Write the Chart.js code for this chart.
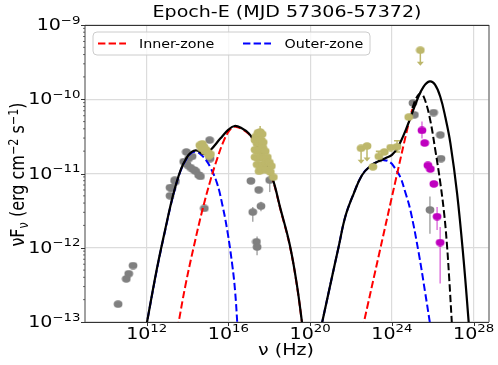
<!DOCTYPE html>
<html>
<head>
<meta charset="utf-8">
<script src="https://cdn.jsdelivr.net/npm/chart.js@4.4.1/dist/chart.umd.min.js"></script>
<style>
  html, body { margin: 0; padding: 0; background: #fff; }
  #wrap { width: 498px; height: 365px; }
</style>
</head>
<body>
<div id="wrap"><canvas id="sed"></canvas></div>
<script>
// SED for Epoch-E. Every number is log10: nu in Hz, nuFnu in erg cm^-2 s^-1

const xTicks = [12, 16, 20, 24, 28];
const yTicks = [-13, -12, -11, -10, -9];

// model: total, synchrotron hump
const totLoNu = [11.95, 12.5, 12.9, 13.3, 13.65, 13.95, 14.2, 14.45, 14.8, 15.1, 15.6, 16.0, 16.3, 16.65, 17.0, 17.25, 17.7, 18.15, 18.55, 19.0, 19.35, 19.62];
const totLoF = [-13.1, -12.28, -11.76, -11.28, -10.96, -10.79, -10.71, -10.69, -10.74, -10.69, -10.53, -10.41, -10.36, -10.39, -10.46, -10.56, -10.77, -11.06, -11.48, -11.96, -12.5, -13.05];
// model: total, high-energy hump
const totHiNu = [20.55, 21.07, 21.39, 21.72, 22.13, 22.54, 22.94, 23.3, 23.7, 24.0, 24.3, 24.74, 25.23, 25.55, 25.85, 26.1, 26.37, 26.62, 26.86, 27.19, 27.51, 27.77];
const totHiF = [-13.05, -12.39, -11.99, -11.58, -11.27, -11.02, -10.9, -10.84, -10.79, -10.75, -10.64, -10.37, -10.01, -9.83, -9.76, -9.8, -9.97, -10.25, -10.59, -11.27, -12.17, -13.05];
// inner zone
const redLoNu = [13.5, 13.9, 14.3, 14.7, 15.12, 15.45, 15.77, 16.05, 16.3, 16.65, 17.0, 17.25, 17.7, 18.15, 18.55, 19.0, 19.35, 19.62];
const redLoF = [-13.1, -12.5, -11.99, -11.52, -11.09, -10.8, -10.56, -10.42, -10.37, -10.4, -10.47, -10.57, -10.78, -11.07, -11.49, -11.97, -12.51, -13.05];
const redHiNu = [22.55, 23.4, 24.15, 24.82, 25.0];
const redHiF = [-13.1, -12.05, -11.13, -10.32, -10.13];
// outer zone
const blueLoNu = [11.95, 12.5, 12.9, 13.3, 13.65, 13.95, 14.2, 14.4, 14.63, 14.9, 15.12, 15.44, 15.7, 15.95, 16.2, 16.33, 16.44];
const blueLoF = [-13.1, -12.29, -11.77, -11.29, -10.97, -10.8, -10.72, -10.71, -10.74, -10.82, -10.92, -11.13, -11.42, -11.78, -12.26, -12.6, -13.05];
const blueHiNu = [20.55, 21.07, 21.39, 21.72, 22.13, 22.54, 22.94, 23.3, 23.6, 23.92, 24.15, 24.41, 24.65, 24.9, 25.31, 25.63, 25.88];
const blueHiF = [-13.05, -12.39, -11.99, -11.58, -11.27, -11.02, -10.9, -10.84, -10.82, -10.85, -10.93, -11.05, -11.25, -11.49, -12.07, -12.61, -13.05];
// inner zone, EC part (black dashed)
const ecNu = [25.0, 25.2, 25.42, 25.63, 25.88, 26.12, 26.37, 26.56, 26.69, 26.8, 26.94];
const ecF = [-10.12, -9.98, -9.92, -10.02, -10.29, -10.68, -11.13, -11.55, -11.95, -12.4, -13.05];

// archival data (grey)
const grayNu = [10.6, 11.0, 11.12, 11.33, 13.14, 13.14, 13.24, 13.37, 13.4, 13.81, 13.94, 13.97, 14.05, 14.14, 14.22, 14.3, 14.4, 14.54, 14.63, 14.82, 15.08, 15.1, 17.1, 17.19, 17.37, 17.4, 17.48, 17.59, 18.02, 25.03, 25.1, 25.86, 26.04, 26.37, 26.4];
const grayF = [-12.76, -12.42, -12.35, -12.24, -11.3, -11.19, -11.2, -11.09, -11.11, -10.84, -10.71, -10.88, -10.8, -10.92, -10.77, -10.95, -10.97, -11.02, -11.04, -11.47, -10.55, -10.8, -11.1, -11.52, -11.92, -11.99, -11.22, -11.44, -11.09, -10.05, -10.21, -11.49, -10.18, -10.48, -10.8];
const grayErrNu = [17.19, 17.4, 17.59, 18.02, 25.86];
const grayErrLo = [-11.65, -12.1, -11.51, -11.25, -11.81];
const grayErrHi = [-11.45, -11.85, -11.38, -11.02, -11.31];

// contemporaneous data (khaki)
const oliveNu = [14.6, 14.68, 14.72, 14.8, 14.85, 14.9, 15.0, 15.05, 15.12,
  17.35, 17.45, 17.55, 17.65, 17.3, 17.4, 17.5, 17.6, 17.7, 17.3, 17.42, 17.55, 17.68, 17.8, 17.3, 17.45, 17.6, 17.75, 17.9,
  17.4, 17.55, 17.7, 17.85, 18.0, 18.1, 17.5, 17.65, 17.85, 18.05, 18.2,
  23.07, 23.36, 23.63, 23.94, 24.25, 24.82];
const oliveF = [-10.62, -10.66, -10.6, -10.64, -10.7, -10.68, -10.72, -10.76, -10.74,
  -10.5, -10.45, -10.44, -10.47, -10.55, -10.6, -10.58, -10.55, -10.58, -10.68, -10.7, -10.68, -10.65, -10.7, -10.78, -10.8, -10.77, -10.8, -10.78,
  -10.88, -10.9, -10.88, -10.85, -10.85, -10.9, -10.97, -10.95, -10.95, -10.98, -11.05,
  -10.91, -10.77, -10.71, -10.65, -10.64, -10.24];
const oliveErrNu = [23.36, 24.25, 17.55, 17.75, 18.1];
const oliveErrLo = [-10.84, -10.71, -10.5, -10.86, -11.1];
const oliveErrHi = [-10.7, -10.56, -10.36, -10.72, -10.95];
const ulNu = [22.49, 22.78, 25.39];
const ulF = [-10.66, -10.63, -9.34];

// gamma-ray data (magenta)
const magNu = [25.47, 25.6, 25.76, 25.88, 26.05, 26.21, 26.36];
const magF = [-10.42, -10.59, -10.89, -10.94, -11.14, -11.58, -11.93];
const magErrNu = [25.47, 26.21, 26.36];
const magErrLo = [-10.53, -11.76, -12.48];
const magErrHi = [-10.3, -11.45, -11.72];

const zip = (xs, ys) => xs.map((x, i) => ({ x, y: ys[i] }));

const FONT = '"DejaVu Sans", sans-serif';
const SX = 1.19; // the reference is squeezed vertically, so text runs wide

function textW(ctx, str, size) {
    ctx.font = size + 'px ' + FONT;
    return ctx.measureText(str).width * SX;
}

function drawText(ctx, str, x, y, size) {
    ctx.save();
    ctx.font = size + 'px ' + FONT;
    ctx.textAlign = 'left';
    ctx.textBaseline = 'alphabetic';
    ctx.translate(x, y);
    ctx.scale(SX, 1);
    ctx.fillText(str, 0, 0);
    ctx.restore();
}

function powerLabel(ctx, exp, x, y, align) {
    const sup = exp < 0 ? '\u2212' + (-exp) : String(exp);
    const wb = textW(ctx, '10', 16);
    const ws = textW(ctx, sup, 11.2);
    const w = wb + ws;
    const x0 = align === 'center' ? x - w / 2 : (align === 'right' ? x - w : x);
    drawText(ctx, '10', x0, y, 16);
    drawText(ctx, sup, x0 + wb, y - 6.5, 11.2);
}

// slightly wide dot, like the stretched markers of the reference
function dot(color) {
    const c = document.createElement('canvas');
    c.width = 10; c.height = 8;
    const g = c.getContext('2d');
    g.fillStyle = color;
    g.beginPath();
    g.ellipse(5, 4, 4.4, 3.7, 0, 0, Math.PI * 2);
    g.fill();
    return c;
}

function vbar(ctx, xs, ys, x, lo, hi, color, cap) {
    const px = xs.getPixelForValue(x);
    const a = ys.getPixelForValue(lo), b = ys.getPixelForValue(hi);
    ctx.strokeStyle = color;
    ctx.lineWidth = 1.5;
    ctx.beginPath();
    ctx.moveTo(px, a); ctx.lineTo(px, b);
    if (cap) {
        ctx.moveTo(px - 3, a); ctx.lineTo(px + 3, a);
        ctx.moveTo(px - 3, b); ctx.lineTo(px + 3, b);
    }
    ctx.stroke();
}

const errorBars = {
    id: 'errorBars',
    beforeDatasetsDraw(chart) {
        const ctx = chart.ctx, xs = chart.scales.x, ys = chart.scales.y;
        const area = chart.chartArea;
        ctx.save();
        ctx.beginPath();
        ctx.rect(area.left, area.top, area.right - area.left, area.bottom - area.top);
        ctx.clip();
        grayErrNu.forEach((x, i) => vbar(ctx, xs, ys, x, grayErrLo[i], grayErrHi[i], '#a8a8a8', false));
        magErrNu.forEach((x, i) => vbar(ctx, xs, ys, x, magErrLo[i], magErrHi[i], '#dd77dd', false));
        oliveErrNu.forEach((x, i) => vbar(ctx, xs, ys, x, oliveErrLo[i], oliveErrHi[i], '#bdb76b', i < 2));
        // upper limits: short arrow pointing down
        ulNu.forEach((x, i) => {
            const px = xs.getPixelForValue(x);
            const top = ys.getPixelForValue(ulF[i]);
            const tip = ys.getPixelForValue(ulF[i] - 0.21);
            ctx.strokeStyle = '#bdb76b';
            ctx.fillStyle = '#bdb76b';
            ctx.lineWidth = 1.5;
            ctx.beginPath();
            ctx.moveTo(px, top); ctx.lineTo(px, tip - 3);
            ctx.stroke();
            ctx.beginPath();
            ctx.moveTo(px - 3.5, tip - 4); ctx.lineTo(px + 3.5, tip - 4); ctx.lineTo(px, tip);
            ctx.closePath();
            ctx.fill();
        });
        ctx.restore();
    }
};

const frameAndText = {
    id: 'frameAndText',
    afterDraw(chart) {
        const ctx = chart.ctx, xs = chart.scales.x, ys = chart.scales.y;
        const a = chart.chartArea;
        ctx.save();

        // spines
        ctx.strokeStyle = '#8a8a8a';
        ctx.lineWidth = 1.6;
        ctx.beginPath();
        ctx.moveTo(a.left, a.top); ctx.lineTo(a.left, a.bottom);
        ctx.moveTo(a.right, a.top); ctx.lineTo(a.right, a.bottom);
        ctx.stroke();
        ctx.strokeStyle = '#333';
        ctx.lineWidth = 1;
        ctx.beginPath();
        ctx.moveTo(a.left, a.top + 0.5); ctx.lineTo(a.right, a.top + 0.5);
        ctx.moveTo(a.left, a.bottom + 0.5); ctx.lineTo(a.right, a.bottom + 0.5);
        ctx.stroke();

        // tick marks
        ctx.strokeStyle = '#333';
        ctx.lineWidth = 1;
        ctx.beginPath();
        xTicks.forEach(v => {
            const px = Math.round(xs.getPixelForValue(v)) + 0.5;
            ctx.moveTo(px, a.bottom); ctx.lineTo(px, a.bottom + 4);
        });
        yTicks.forEach(v => {
            const py = Math.round(ys.getPixelForValue(v)) + 0.5;
            ctx.moveTo(a.left, py); ctx.lineTo(a.left - 4, py);
        });
        ctx.stroke();
        ctx.lineWidth = 0.7;
        ctx.beginPath();
        yTicks.slice(0, -1).forEach(d => {
            for (let k = 2; k <= 9; k++) {
                const py = ys.getPixelForValue(d + Math.log10(k));
                ctx.moveTo(a.left, py); ctx.lineTo(a.left - 2, py);
            }
        });
        ctx.stroke();

        // tick labels
        ctx.fillStyle = '#000';
        xTicks.forEach(v => powerLabel(ctx, v, xs.getPixelForValue(v), 338.5, 'center'));
        yTicks.forEach(v => powerLabel(ctx, v, 80.5, ys.getPixelForValue(v) + 5, 'right'));

        // title
        const title = 'Epoch-E (MJD 57306-57372)';
        drawText(ctx, title, (a.left + a.right) / 2 - textW(ctx, title, 16) / 2, 17, 16);

        // x label
        const xl = '\u03bd (Hz)';
        drawText(ctx, xl, 286 - textW(ctx, xl, 16) / 2, 355, 16);

        // y label, rotated, pieces with sub/superscripts
        const parts = [['\u03bd', 16, 0], ['F', 16, 0], ['\u03bd', 11.2, 3.5], [' (erg cm', 16, 0],
            ['\u22122', 11.2, -6.5], [' s', 16, 0], ['\u22121', 11.2, -6.5], [')', 16, 0]];
        let total = 0;
        parts.forEach(p => { ctx.font = p[1] + 'px ' + FONT; total += ctx.measureText(p[0]).width; });
        ctx.translate(24, (a.top + a.bottom) / 2 + 1);
        ctx.rotate(-Math.PI / 2);
        ctx.scale(1, SX);
        let cx = -total / 2;
        parts.forEach(p => {
            ctx.font = p[1] + 'px ' + FONT;
            ctx.fillText(p[0], cx, p[2] / SX);
            cx += ctx.measureText(p[0]).width;
        });
        ctx.restore();

        // legend box
        ctx.save();
        ctx.fillStyle = 'rgba(255,255,255,0.8)';
        ctx.strokeStyle = '#cccccc';
        ctx.lineWidth = 1;
        ctx.beginPath();
        ctx.roundRect(93, 32, 277, 23, 4);
        ctx.fill();
        ctx.stroke();
        const entries = [[chart.data.datasets[2], 98, 139], [chart.data.datasets[4], 243, 284.5]];
        entries.forEach(([ds, x0, tx]) => {
            ctx.strokeStyle = ds.borderColor;
            ctx.lineWidth = 2;
            ctx.setLineDash(ds.borderDash);
            ctx.beginPath();
            ctx.moveTo(x0, 43.5); ctx.lineTo(x0 + 28, 43.5);
            ctx.stroke();
            ctx.setLineDash([]);
            ctx.fillStyle = '#000';
            drawText(ctx, ds.label, tx, 48, 12);
        });
        ctx.restore();
    }
};

const dash = [7.4, 3.2];
const curve = (label, data, color, dashed, order, width) => ({
    label, data, showLine: true, borderColor: color, borderWidth: width || 2,
    borderDash: dashed ? dash : [], pointRadius: 0, fill: false,
    tension: 0.4, order
});
const marks = (label, data, color, order) => ({
    label, data, pointStyle: dot(color), backgroundColor: color, order
});

new Chart(document.getElementById('sed'), {
    type: 'scatter',
    data: {
        datasets: [
            curve('Total', zip(totLoNu, totLoF), '#000000', false, 2, 2.2),
            curve('Total', zip(totHiNu, totHiF), '#000000', false, 2, 2.2),
            curve('Inner-zone', zip(redLoNu, redLoF), '#ff0000', true, 4),
            curve('Inner-zone', zip(redHiNu, redHiF), '#ff0000', true, 4),
            curve('Outer-zone', zip(blueLoNu, blueLoF), '#0000ff', true, 5),
            curve('Outer-zone', zip(blueHiNu, blueHiF), '#0000ff', true, 5),
            curve('Inner-zone EC', zip(ecNu, ecF), '#000000', true, 3),
            marks('archival', zip(grayNu, grayF), '#808080', 6),
            marks('contemporaneous', zip(oliveNu, oliveF), '#bdb76b', 1),
            marks('upper limits', zip(ulNu, ulF), '#bdb76b', 1),
            marks('gamma', zip(magNu, magF), '#bf00bf', 0)
        ]
    },
    options: {
        responsive: true,
        maintainAspectRatio: false,
        animation: false,
        layout: { padding: { top: 25, right: 9, left: 0, bottom: 0 } },
        plugins: { legend: { display: false }, tooltip: { enabled: false } },
        scales: {
            x: {
                type: 'linear', min: 8.98, max: 28.75,
                afterBuildTicks: s => { s.ticks = xTicks.map(v => ({ value: v })); },
                afterFit: s => { s.height = 43; },
                ticks: { display: false },
                border: { display: false },
                grid: { color: '#dcdcdc', lineWidth: 1.2, drawTicks: false }
            },
            y: {
                type: 'linear', min: -13, max: -9,
                afterBuildTicks: s => { s.ticks = yTicks.map(v => ({ value: v })); },
                afterFit: s => { s.width = 85; },
                ticks: { display: false },
                border: { display: false },
                grid: { color: '#dcdcdc', lineWidth: 1.2, drawTicks: false }
            }
        }
    },
    plugins: [errorBars, frameAndText]
});
</script>
</body>
</html>
